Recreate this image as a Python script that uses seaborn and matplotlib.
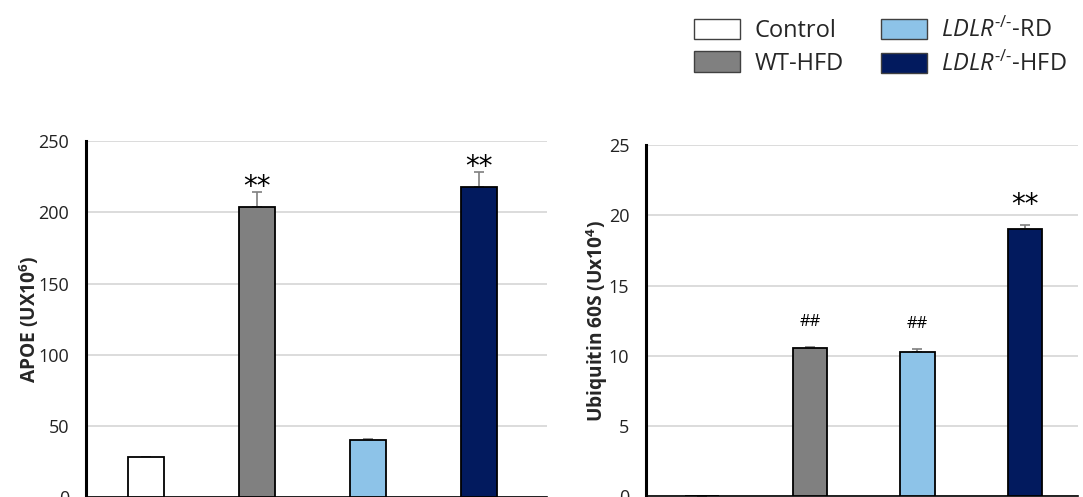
import numpy as np
import pandas as pd
import matplotlib
matplotlib.use("Agg")
import matplotlib.pyplot as plt
from matplotlib.patches import Patch
import seaborn as sns

# Groups and measured values
groups = ["Control", "WT-HFD", "LDLR-RD", "LDLR-HFD"]
legend_labels = ["Control", "WT-HFD",
                 r"$\mathit{LDLR}^{\text{-/-}}$-RD",
                 r"$\mathit{LDLR}^{\text{-/-}}$-HFD"]
group_colors = ["#ffffff", "#808080", "#8dc3e8", "#021a5e"]

apoe_mean = [28.0, 204.0, 40.0, 217.5]
apoe_err = [0.4, 10.0, 0.6, 10.5]
apoe_marks = ["", "**", "", "**"]

ubq_mean = [0.0, 10.55, 10.3, 19.05]
ubq_err = [0.0, 0.05, 0.2, 0.28]
ubq_marks = ["", "##", "##", "**"]

sns.set_theme(style="white")
plt.rcParams["font.family"] = ["Open Sans", "DejaVu Sans"]
plt.rcParams["mathtext.fontset"] = "custom"
plt.rcParams["mathtext.rm"] = "Open Sans"
plt.rcParams["mathtext.it"] = "Open Sans:italic"
plt.rcParams["mathtext.bf"] = "Open Sans:bold"

W, H = 1083, 497
fig = plt.figure(figsize=(W / 100, H / 100), dpi=100)


def px_axes(x0, x1, ytop, ybot):
    return fig.add_axes([x0 / W, 1 - ybot / H, (x1 - x0) / W, (ybot - ytop) / H])


def panel(ax, means, errs, marks, ymax, ystep, ylabel, xlim, mark_off, labelpad):
    df = pd.DataFrame({"group": groups, "value": means})
    sns.barplot(data=df, x="group", y="value", hue="group", order=groups,
                hue_order=groups, palette=group_colors, saturation=1,
                width=0.32, edgecolor="black", linewidth=1.3, legend=False,
                ax=ax, zorder=3)
    pos = np.arange(len(groups))
    ax.errorbar(pos, means, yerr=[np.zeros(len(errs)), errs], fmt="none",
                ecolor="#7f7f7f", elinewidth=1.2, capsize=3.5, capthick=1.2,
                zorder=2)
    for i, (m, e, t) in enumerate(zip(means, errs, marks)):
        if not t:
            continue
        big = t == "**"
        ax.annotate(t, xy=(i, m + e), xytext=(0, mark_off[big]),
                    textcoords="offset pixels", ha="center", va="center",
                    fontsize=20 if big else 12, color="black",
                    family="DejaVu Sans" if big else "Open Sans")
    ax.set_ylim(0, ymax)
    ax.set_xlim(*xlim)
    ax.set_yticks(np.arange(0, ymax + ystep / 2, ystep))
    ax.set_xticks([])
    ax.set_xlabel("")
    ax.set_ylabel(ylabel, fontsize=13.8, fontweight="bold", labelpad=labelpad)
    ax.yaxis.grid(True, color="#d9d9d9", linewidth=1.3, zorder=0)
    ax.set_axisbelow(True)
    ax.tick_params(axis="y", length=0, pad=12, labelsize=13, labelcolor="#222222")
    for s in ["top", "right"]:
        ax.spines[s].set_visible(False)
    ax.spines["left"].set_color("black")
    ax.spines["left"].set_linewidth(2.2)
    ax.spines["bottom"].set_color("black")
    ax.spines["bottom"].set_linewidth(1.2)


ax1 = px_axes(86, 547, 141, 497.3)
panel(ax1, apoe_mean, apoe_err, apoe_marks, 250, 50,
      r"APOE (UX10$^{\mathbf{6}}$)", (-0.54, 3.61), {True: 5, False: 12}, -1.5)

ax2 = px_axes(646, 1078, 145, 496.3)
panel(ax2, ubq_mean, ubq_err, ubq_marks, 25, 5,
      r"Ubiquitin 60S (Ux10$^{\mathbf{4}}$)", (-0.52, 3.49), {True: 20, False: 25}, -1)

handles = [Patch(facecolor=c, edgecolor="#404040", linewidth=1.0) for c in group_colors]
fig.legend(handles, legend_labels, ncol=2, loc="upper left",
           bbox_to_anchor=(694 / W, 1 - 18 / H), frameon=False, fontsize=17,
           handlelength=1.95, handleheight=0.93, handletextpad=0.6,
           columnspacing=1.6, labelspacing=0.35, borderpad=0, borderaxespad=0)

fig.savefig("out.png", dpi=100)
